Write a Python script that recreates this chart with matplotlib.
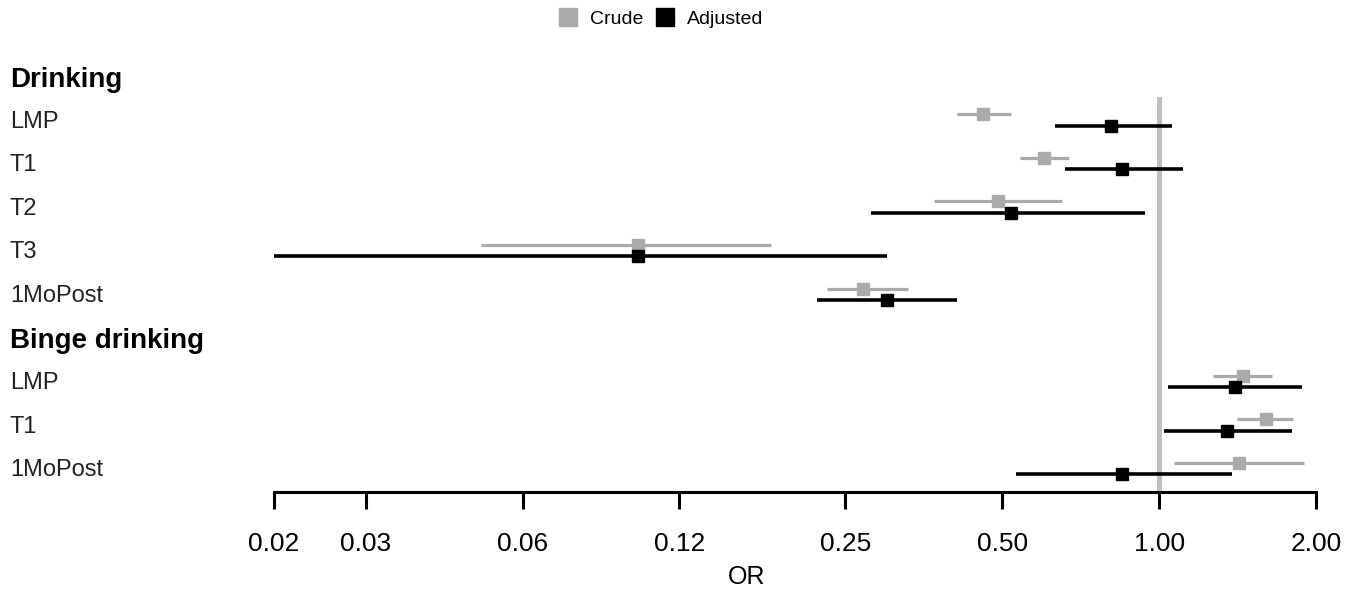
import matplotlib
matplotlib.use("Agg")
import matplotlib.pyplot as plt
from matplotlib.lines import Line2D
from matplotlib.transforms import blended_transform_factory

plt.rcParams['font.family'] = ['Liberation Sans', 'DejaVu Sans']

# rows top to bottom (headers have no estimates)
row_labels = ['Drinking', 'LMP', 'T1', 'T2', 'T3', '1MoPost',
              'Binge drinking', 'LMP', 'T1', '1MoPost']
header_rows = [0, 6]
est_rows = [1, 2, 3, 4, 5, 7, 8, 9]

crude_or = [0.46, 0.60, 0.49, 0.10, 0.27, 1.45, 1.60, 1.42]
crude_lo = [0.41, 0.54, 0.37, 0.050, 0.23, 1.27, 1.41, 1.07]
crude_hi = [0.52, 0.67, 0.65, 0.18, 0.33, 1.65, 1.81, 1.90]

adj_or = [0.81, 0.85, 0.52, 0.10, 0.30, 1.40, 1.35, 0.85]
adj_lo = [0.63, 0.66, 0.28, 0.020, 0.22, 1.04, 1.02, 0.53]
adj_hi = [1.06, 1.11, 0.94, 0.30, 0.41, 1.88, 1.80, 1.38]

ticks = [0.02, 0.03, 0.06, 0.12, 0.25, 0.50, 1.00, 2.00]
tick_labels = ['0.02', '0.03', '0.06', '0.12', '0.25', '0.50', '1.00', '2.00']

crude_col = '#AAAAAA'
adj_col = '#000000'

W, H = 1362, 593
fig = plt.figure(figsize=(W / 100, H / 100), dpi=100)
ax = fig.add_axes([274 / W, 1 - 492 / H, 1042 / W, (492 - 97) / H])

ax.axvline(1.0, color='#C0C0C0', lw=3.6, zorder=0)

for i, r in enumerate(est_rows):
    yc = r - 0.17
    ya = r + 0.09
    ax.plot([crude_lo[i], crude_hi[i]], [yc, yc], color=crude_col, lw=2.3,
            solid_capstyle='butt', clip_on=False, zorder=2)
    ax.plot(crude_or[i], yc, 's', color=crude_col, ms=8, clip_on=False, zorder=3)
    ax.plot([adj_lo[i], adj_hi[i]], [ya, ya], color=adj_col, lw=2.6,
            solid_capstyle='butt', clip_on=False, zorder=4)
    ax.plot(adj_or[i], ya, 's', color=adj_col, ms=8, clip_on=False, zorder=5)

ax.set_xscale('log')
ax.set_xlim(0.02, 2.0)
ax.set_ylim(9.495, 0.436)
ax.set_xticks(ticks)
ax.set_xticklabels(tick_labels, fontsize=19)
ax.minorticks_off()
ax.set_yticks([])
for s in ['top', 'right', 'left']:
    ax.spines[s].set_visible(False)
ax.spines['bottom'].set_linewidth(2.2)
ax.tick_params(axis='x', length=12, width=2.2, pad=17, color='black')

trans = blended_transform_factory(fig.transFigure, ax.transData)
for r, lab in enumerate(row_labels):
    if r in header_rows:
        ax.text(10 / W, r + 0.04, lab, transform=trans, fontsize=20,
                fontweight='bold', va='center', ha='left')
    else:
        ax.text(10 / W, r, lab, transform=trans, fontsize=17,
                va='center', ha='left', color='#222222')

fig.text(747 / W, 1 - 577 / H, 'OR', fontsize=18, ha='center', va='center')

handles = [Line2D([], [], marker='s', ls='', color=crude_col, ms=13),
           Line2D([], [], marker='s', ls='', color=adj_col, ms=13)]
fig.legend(handles, ['Crude', 'Adjusted'], loc='center',
           bbox_to_anchor=(661 / W, 1 - 19 / H), ncol=2, frameon=False,
           fontsize=14, handletextpad=0.65, columnspacing=0.6,
           handlelength=1.0)

fig.savefig('out.png', dpi=100)
